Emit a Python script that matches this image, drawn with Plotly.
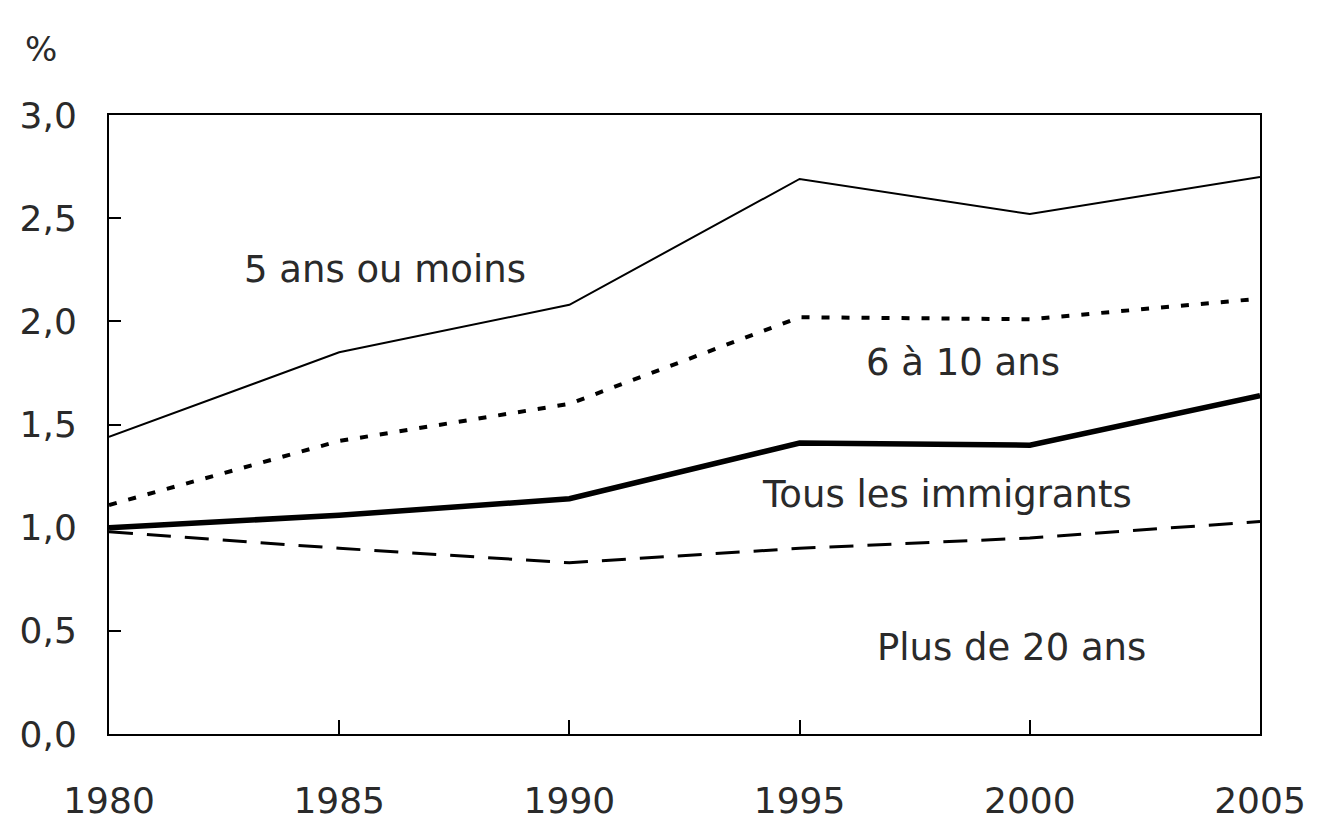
import plotly.graph_objects as go

years = [1980, 1985, 1990, 1995, 2000, 2005]
moins_5 = [1.44, 1.85, 2.08, 2.69, 2.52, 2.70]
de_6_a_10 = [1.11, 1.42, 1.60, 2.02, 2.01, 2.11]
tous = [1.00, 1.06, 1.14, 1.41, 1.40, 1.64]
plus_20 = [0.98, 0.90, 0.83, 0.90, 0.95, 1.03]

labels = ["5 ans ou moins", "6 à 10 ans", "Tous les immigrants", "Plus de 20 ans"]
label_x = [1986.0, 1998.55, 1998.2, 1999.6]
label_y = [2.25, 1.80, 1.16, 0.42]

font = "'DejaVu Sans', sans-serif"
ink = "#2a2a2a"

fig = go.Figure()
fig.add_trace(go.Scatter(x=years, y=moins_5, mode="lines", line=dict(color="black", width=2)))
fig.add_trace(go.Scatter(x=years, y=de_6_a_10, mode="lines", line=dict(color="black", width=4, dash="8px,12px")))
fig.add_trace(go.Scatter(x=years, y=tous, mode="lines", line=dict(color="black", width=5.5)))
fig.add_trace(go.Scatter(x=years, y=plus_20, mode="lines", line=dict(color="black", width=3, dash="24px,14px")))

# étiquettes des séries
for txt, lx, ly in zip(labels, label_x, label_y):
    fig.add_annotation(x=lx, y=ly, text=txt, showarrow=False,
                       font=dict(size=37, color=ink, family=font))

fig.add_annotation(x=0, y=1, xref="paper", yref="paper", text="%", showarrow=False,
                   xanchor="left", yanchor="bottom", xshift=-86, yshift=44,
                   font=dict(size=34, color=ink, family=font))

fig.update_layout(
    width=1319, height=821,
    template="plotly_white",
    paper_bgcolor="white", plot_bgcolor="white",
    showlegend=False,
    separators=", ",
    margin=dict(l=101, r=67, t=107, b=95),
    font=dict(family=font, size=36, color=ink),
)
fig.update_xaxes(range=[1980, 2005], tickvals=years, showgrid=False, zeroline=False,
                 showline=True, linecolor="black", linewidth=2, mirror=True, automargin=False,
                 ticks="inside", ticklen=14, tickwidth=2, tickcolor="black", ticklabelstandoff=34)
fig.update_yaxes(range=[0, 3], tickvals=[0, 0.5, 1, 1.5, 2, 2.5, 3], tickformat=".1f",
                 showgrid=False, zeroline=False, automargin=False,
                 showline=True, linecolor="black", linewidth=2, mirror=True,
                 ticks="inside", ticklen=12, tickwidth=2, tickcolor="black", ticklabelstandoff=23)

fig.write_html("out.html")
